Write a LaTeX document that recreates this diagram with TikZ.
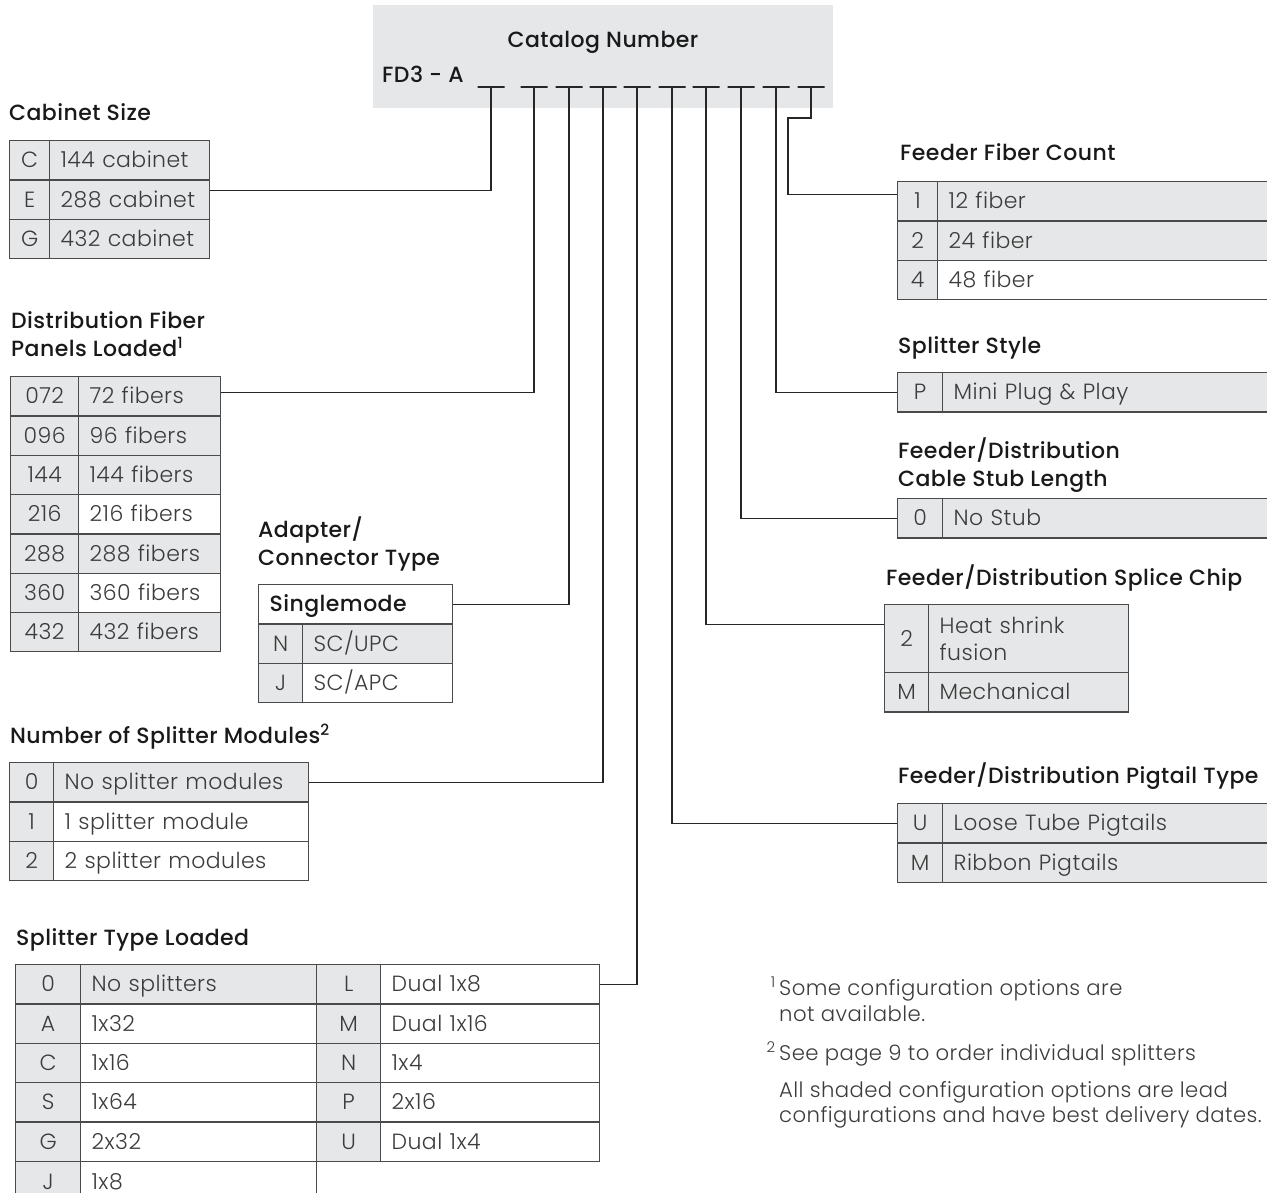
\documentclass[tikz,border=0pt]{standalone}
\usepackage{fontspec}
\setmainfont{Poppins}[UprightFont=* Light, BoldFont=* Medium, LetterSpace=2]

\definecolor{grirenk}{HTML}{E6E7E8}
\definecolor{cizgi}{HTML}{4A4A4A}
\definecolor{yazi}{HTML}{3C3C3C}

\tikzset{
  hucre/.style={draw=cizgi, line width=1.3pt, anchor=north west, inner sep=0pt,
    minimum height=39.3pt, text height=16pt, text depth=1pt, text=yazi,
    font=\fontsize{22}{27}\selectfont},
  kod/.style={hucre, minimum width=#1, align=center},
  acik/.style={hucre, inner xsep=11pt, text width=#1, align=left},
  golge/.style={fill=grirenk},
  baslik/.style={anchor=base west, inner sep=0pt, align=left, text=black!90,
    font=\bfseries\fontsize{22}{28}\selectfont},
  dipnot/.style={anchor=base west, inner sep=0pt, align=left, text=yazi,
    font=\fontsize{21.2}{25}\selectfont},
  tire/.style={draw=black!85, line width=1.3pt, minimum width=27pt,
    minimum height=0pt, inner sep=0pt},
  baglanti/.style={draw=black!85, line width=1.3pt},
}

\begin{document}
\begin{tikzpicture}[x=1pt, y=-1pt]
  \useasboundingbox (0,0) rectangle (1267,1193);
  \clip (0,0) rectangle (1267,1193);

  % Katalog numarasi kutusu
  \node[fill=grirenk, anchor=north west, minimum width=460pt, minimum height=103pt, inner sep=0pt] (katalog) at (373,5) {};
  \node[baslik, anchor=base] (katbaslik) at (603,48) {Catalog Number};
  \node[baslik] (onek) at (382,83) {FD3 - A};

  % Kod basamaklari
  \node[tire] (d1) at (491,87) {};
  \node[tire] (d2) at (534,87) {};
  \node[tire] (d3) at (569,87) {};
  \node[tire] (d4) at (603,87) {};
  \node[tire] (d5) at (637,87) {};
  \node[tire] (d6) at (672,87) {};
  \node[tire] (d7) at (706,87) {};
  \node[tire] (d8) at (741,87) {};
  \node[tire] (d9) at (776,87) {};
  \node[tire] (d10) at (811,87) {};

  % Kabin boyutu
  \node[baslik] (kabinbaslik) at (9,121) {Cabinet Size};
  \node[kod=40pt, golge] (kabinCk) at (9,140) {C};
  \node[acik=138pt, golge] (kabinC) at (49,140) {144 cabinet};
  \node[kod=40pt, golge] (kabinEk) at (9,179.3) {E};
  \node[acik=138pt, golge] (kabinE) at (49,179.3) {288 cabinet};
  \node[kod=40pt, golge] (kabinGk) at (9,218.6) {G};
  \node[acik=138pt, golge] (kabinG) at (49,218.6) {432 cabinet};

  % Dagitim fiber panelleri
  \node[baslik] (dagbaslik) at (11,356) {Distribution Fiber\\Panels Loaded\textsuperscript{1}};
  \node[kod=68pt, golge] (dag1k) at (10,376) {072};
  \node[acik=120pt, golge] (dag1) at (78,376) {72 fibers};
  \node[kod=68pt, golge] (dag2k) at (10,415.3) {096};
  \node[acik=120pt, golge] (dag2) at (78,415.3) {96 fibers};
  \node[kod=68pt, golge] (dag3k) at (10,454.6) {144};
  \node[acik=120pt, golge] (dag3) at (78,454.6) {144 fibers};
  \node[kod=68pt, golge] (dag4k) at (10,493.9) {216};
  \node[acik=120pt] (dag4) at (78,493.9) {216 fibers};
  \node[kod=68pt, golge] (dag5k) at (10,533.2) {288};
  \node[acik=120pt, golge] (dag5) at (78,533.2) {288 fibers};
  \node[kod=68pt, golge] (dag6k) at (10,572.5) {360};
  \node[acik=120pt] (dag6) at (78,572.5) {360 fibers};
  \node[kod=68pt, golge] (dag7k) at (10,611.8) {432};
  \node[acik=120pt, golge] (dag7) at (78,611.8) {432 fibers};

  % Adaptor / konnektor
  \node[baslik] (adapbaslikT) at (258,565) {Adapter/\\Connector Type};
  \node[acik=172pt, font=\bfseries\fontsize{22}{27}\selectfont, text=black!90] (adapbaslik) at (258,584) {Singlemode};
  \node[kod=44pt, golge] (adapNk) at (258,623.3) {N};
  \node[acik=128pt, golge] (adapN) at (302,623.3) {SC/UPC};
  \node[kod=44pt, golge] (adapJk) at (258,662.6) {J};
  \node[acik=128pt] (adapJ) at (302,662.6) {SC/APC};

  % Splitter modul sayisi
  \node[baslik] (modbaslik) at (10,743) {Number of Splitter Modules\textsuperscript{2}};
  \node[kod=44pt, golge] (mod0k) at (9,762) {0};
  \node[acik=233pt, golge] (mod0) at (53,762) {No splitter modules};
  \node[kod=44pt, golge] (mod1k) at (9,801.3) {1};
  \node[acik=233pt] (mod1) at (53,801.3) {1 splitter module};
  \node[kod=44pt, golge] (mod2k) at (9,840.6) {2};
  \node[acik=233pt] (mod2) at (53,840.6) {2 splitter modules};

  % Splitter tipi
  \node[baslik] (ayrbaslik) at (16,945) {Splitter Type Loaded};
  \node[kod=65pt, golge] (ayrOk) at (15,964) {0};
  \node[acik=214pt, golge] (ayrO) at (80,964) {No splitters};
  \node[kod=65pt, golge] (ayrAk) at (15,1003.3) {A};
  \node[acik=214pt] (ayrA) at (80,1003.3) {1x32};
  \node[kod=65pt, golge] (ayrCk) at (15,1042.6) {C};
  \node[acik=214pt] (ayrC) at (80,1042.6) {1x16};
  \node[kod=65pt, golge] (ayrSk) at (15,1081.9) {S};
  \node[acik=214pt] (ayrS) at (80,1081.9) {1x64};
  \node[kod=65pt, golge] (ayrGk) at (15,1121.2) {G};
  \node[acik=214pt] (ayrG) at (80,1121.2) {2x32};
  \node[kod=65pt, golge, minimum height=34pt, text height=24pt] (ayrJk) at (15,1160.5) {J};
  \node[acik=214pt, minimum height=34pt, text height=24pt] (ayrJ) at (80,1160.5) {1x8};
  \node[kod=64pt, golge] (ayrLk) at (316,964) {L};
  \node[acik=197pt] (ayrL) at (380,964) {Dual 1x8};
  \node[kod=64pt, golge] (ayrMk) at (316,1003.3) {M};
  \node[acik=197pt] (ayrM) at (380,1003.3) {Dual 1x16};
  \node[kod=64pt, golge] (ayrNk) at (316,1042.6) {N};
  \node[acik=197pt] (ayrN) at (380,1042.6) {1x4};
  \node[kod=64pt, golge] (ayrPk) at (316,1081.9) {P};
  \node[acik=197pt] (ayrP) at (380,1081.9) {2x16};
  \node[kod=64pt, golge] (ayrUk) at (316,1121.2) {U};
  \node[acik=197pt] (ayrU) at (380,1121.2) {Dual 1x4};

  % Besleyici fiber sayisi
  \node[baslik] (besbaslik) at (900,161) {Feeder Fiber Count};
  \node[kod=40pt, golge] (bes1k) at (897,181) {1};
  \node[acik=331pt, golge] (bes1) at (937,181) {12 fiber};
  \node[kod=40pt, golge] (bes2k) at (897,220.3) {2};
  \node[acik=331pt, golge] (bes2) at (937,220.3) {24 fiber};
  \node[kod=40pt, golge] (bes4k) at (897,259.6) {4};
  \node[acik=331pt] (bes4) at (937,259.6) {48 fiber};

  % Splitter stili
  \node[baslik] (stilbaslik) at (898,353) {Splitter Style};
  \node[kod=45pt, golge] (stilPk) at (897,372) {P};
  \node[acik=326pt, golge] (stilP) at (942,372) {Mini Plug \& Play};

  % Kablo kocani uzunlugu
  \node[baslik] (kocbaslik) at (898,486) {Feeder/Distribution\\Cable Stub Length};
  \node[kod=45pt, golge] (koc0k) at (897,498) {0};
  \node[acik=326pt, golge] (koc0) at (942,498) {No Stub};

  % Ek cipi
  \node[baslik] (eklbaslik) at (886,585) {Feeder/Distribution Splice Chip};
  \node[kod=44pt, golge, minimum height=68pt] (ekl2k) at (884,604) {2};
  \node[acik=178pt, golge, minimum height=68pt, text height=, text depth=] (ekl2) at (928,604) {Heat shrink\\fusion};
  \node[kod=44pt, golge] (eklMk) at (884,672) {M};
  \node[acik=178pt, golge] (eklM) at (928,672) {Mechanical};

  % Pigtail tipi
  \node[baslik] (pigbaslik) at (898,783) {Feeder/Distribution Pigtail Type};
  \node[kod=45pt, golge] (pigUk) at (897,803) {U};
  \node[acik=326pt, golge] (pigU) at (942,803) {Loose Tube Pigtails};
  \node[kod=45pt, golge] (pigMk) at (897,842.3) {M};
  \node[acik=326pt, golge] (pigM) at (942,842.3) {Ribbon Pigtails};

  % Baglantilar
  \draw[baglanti] (d1.center) |- ([yshift=9pt]kabinE.east);
  \draw[baglanti] (d2.center) |- ([yshift=4pt]dag1.east);
  \draw[baglanti] (d3.center) |- (adapbaslik.east);
  \draw[baglanti] (d4.center) |- (mod0.east);
  \draw[baglanti] (d5.center) |- (ayrL.east);
  \draw[baglanti] (d6.center) |- (pigUk.west);
  \draw[baglanti] (d7.center) |- ([yshift=14pt]ekl2k.west);
  \draw[baglanti] (d8.center) |- (koc0k.west);
  \draw[baglanti] (d9.center) |- (stilPk.west);
  \coordinate (donus) at (788,118);
  \draw[baglanti] (d10.center) |- (donus) |- ([yshift=7pt]bes1k.west);

  % Dipnotlar
  \node[dipnot, font=\fontsize{21.2}{26}\selectfont] (dip1) at (779,1021) {\llap{\textsuperscript{1}\,}Some configuration options are\\not available.};
  \node[dipnot] (dip2) at (779,1060) {\llap{\textsuperscript{2}\,}See page 9 to order individual splitters};
  \node[dipnot] (dip3) at (779,1122) {All shaded configuration options are lead\\configurations and have best delivery dates.};
\end{tikzpicture}
\end{document}
